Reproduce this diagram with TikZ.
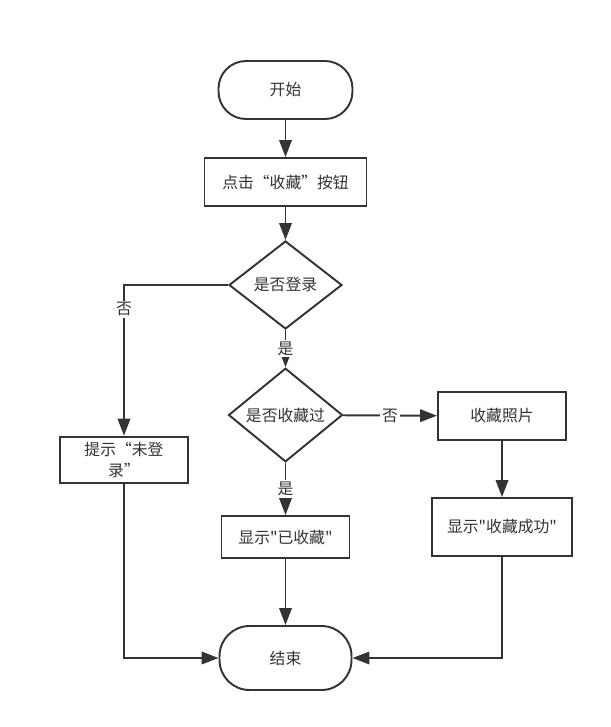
\documentclass[tikz,border=0pt]{standalone}
\usepackage{fontspec}
\newfontfamily\cjk{Noto Sans CJK SC}
\usetikzlibrary{positioning, arrows.meta, shapes.geometric}

\begin{document}
\begin{tikzpicture}[
    x=0.02cm, y=-0.02cm,              % 1 单位 = 参考图的 1 像素
    line width=1.1pt,                 % 全体线宽
    color=black!80,                   % 深灰色
    >={Triangle[length=0.34cm, width=0.25cm]},
    font=\cjk\fontsize{9}{11.5}\selectfont,
    terminal/.style={draw, rounded corners=0.55cm, fill=white},
    procbox/.style={draw, rectangle, fill=white, align=center},
    decision/.style={draw, diamond, inner sep=0pt, fill=white},
    yesno/.style={fill=white, inner sep=1pt}
]

    % 画布大小
    \useasboundingbox (0,0) rectangle (610,727);

    % --- 1. 主流程节点 ---
    \node [terminal, minimum width=2.68cm, minimum height=1.16cm] (start) at (285.5, 90) {开始};
    \node [procbox, minimum width=3.24cm, minimum height=0.96cm] (click) at (285.5, 182) {点击“收藏”按钮};
    \node [decision, minimum width=2.26cm, minimum height=1.76cm] (login) at (285.5, 285) {是否登录};
    \node [decision, minimum width=2.28cm, minimum height=1.8cm] (collected) at (285.5, 415) {是否收藏过};

    % --- 2. 分支节点 ---
    \node [procbox, minimum width=2.56cm, minimum height=0.88cm] (nologin) at (124, 460) {提示“未登\\录”};
    \node [procbox, minimum width=2.56cm, minimum height=0.96cm] (photo) at (502, 416) {收藏照片};
    \node [procbox, minimum width=2.56cm, minimum height=0.84cm] (already) at (285.5, 537) {显示"已收藏"};
    \node [procbox, minimum width=2.8cm, minimum height=1.16cm] (success) at (502, 527) {显示"收藏成功"};
    \node [terminal, minimum width=2.64cm, minimum height=1.28cm, rounded corners=0.6cm] (finish) at (285.5, 658) {结束};

    % --- 3. 连线 ---
    \draw [->] (start) -- (click);
    \draw [->] (click) -- (login);
    \draw [->] (login.west) -| node [yesno, pos=0.58] {否} (nologin.north);
    \draw [->] (login) -- node [yesno] {是} (collected);
    \draw [->] (collected) -- node [yesno] {否} (photo);
    \draw [->] (collected) -- node [yesno] {是} (already);
    \draw [->] (photo) -- (success);
    \draw [->] (already) -- (finish);
    \draw [->] (nologin.south) |- (finish.west);
    \draw [->] (success.south) |- (finish.east);

\end{tikzpicture}
\end{document}
